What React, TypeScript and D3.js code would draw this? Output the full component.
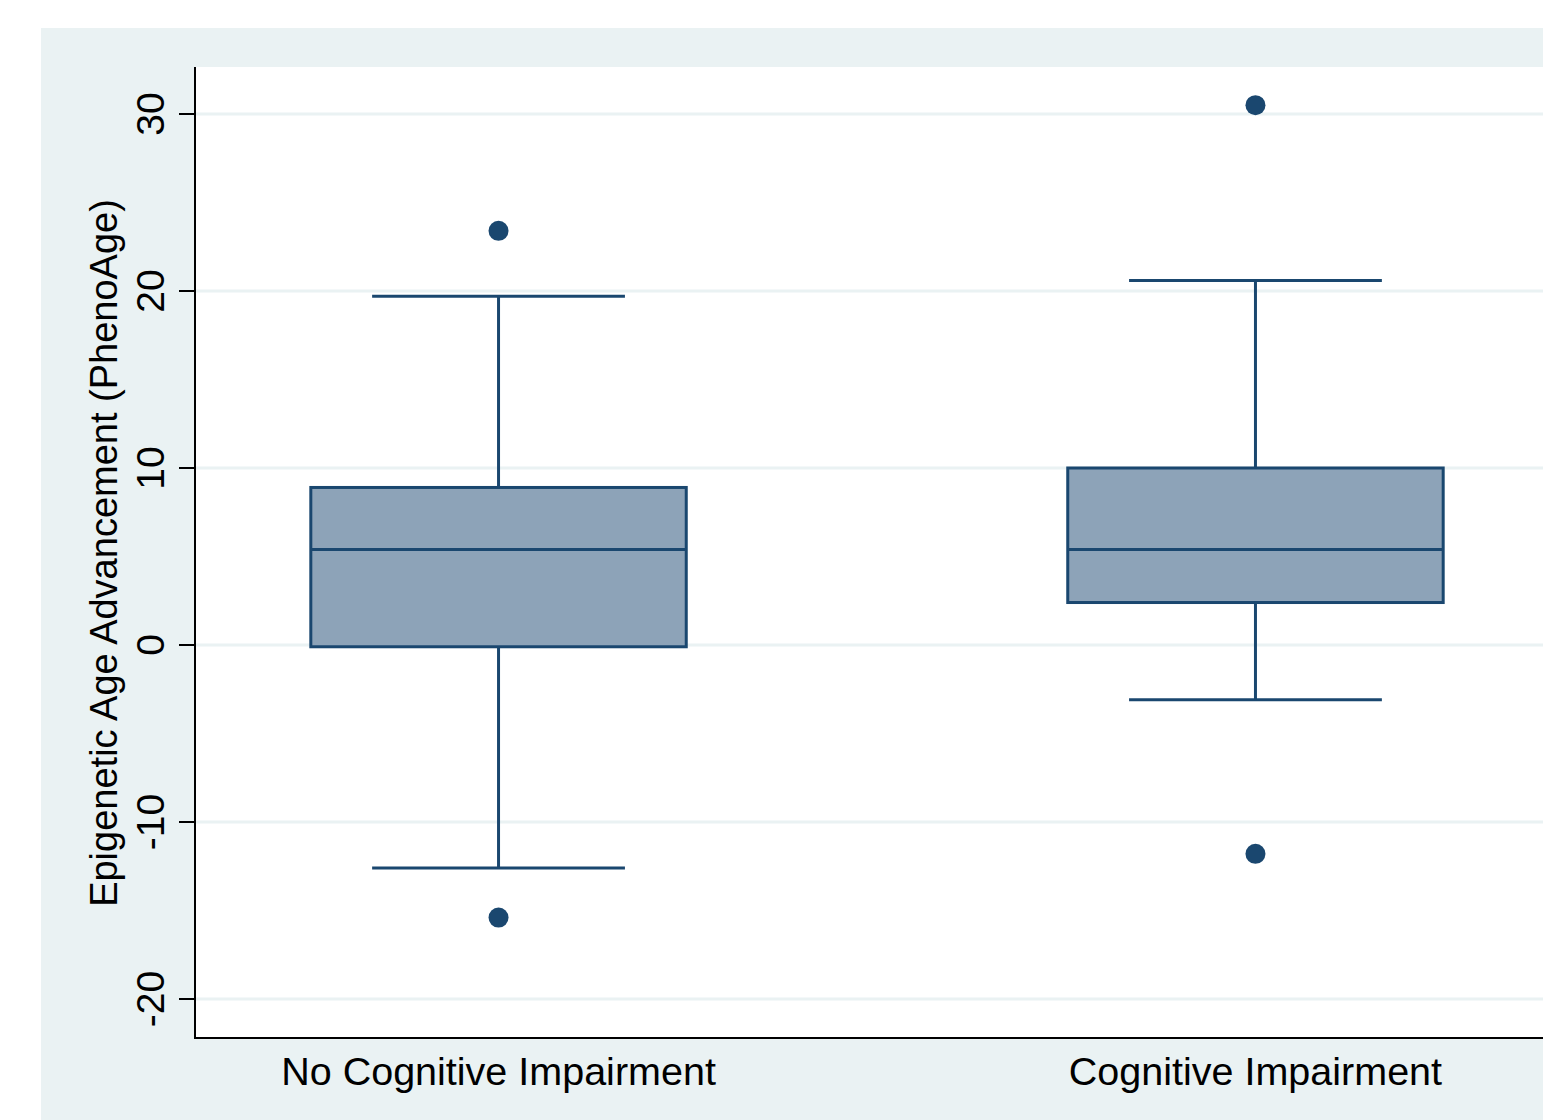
import React from "react";
import * as d3 from "d3";

const categories = ["No Cognitive Impairment", "Cognitive Impairment"];
const q1 = [-0.1, 2.4];
const medians = [5.4, 5.4];
const q3 = [8.9, 10.0];
const whiskerLow = [-12.6, -3.1];
const whiskerHigh = [19.7, 20.6];
const outliers = [[23.4, -15.4], [30.5, -11.8]];
const yTicks = [-20, -10, 0, 10, 20, 30];
const yTitle = "Epigenetic Age Advancement (PhenoAge)";

const W = 1543;
const H = 1120;
const plotLeft = 195;
const plotRight = 1559;
const plotTop = 67;
const plotBottom = 1038;

const navy = "#1A476F";
const boxFill = "#8DA3B8";
const panel = "#EAF2F3";
const font = "'Liberation Sans', Arial, Helvetica, sans-serif";

export default function App() {
  const y = d3.scaleLinear().domain([-20, 30]).range([999, 114]);
  const x = d3.scalePoint<string>().domain(categories).range([plotLeft, plotRight]).padding(0.401);
  const step = x.step();
  const boxW = step * 0.496;
  const capW = step * 0.334;

  return (
    <svg
      width={W}
      height={H}
      style={{ position: "absolute", left: 0, top: 0, background: "#fff" }}
    >
      <rect x={41} y={28} width={W - 41} height={H - 28} fill={panel} />
      <rect x={plotLeft} y={plotTop} width={W - plotLeft} height={plotBottom - plotTop} fill="#fff" />
      {yTicks.map((t) => (
        <line key={"g" + t} x1={plotLeft} x2={W} y1={y(t)} y2={y(t)} stroke={panel} strokeWidth={3} />
      ))}
      {categories.map((c, i) => {
        const cx = x(c) as number;
        return (
          <g key={c}>
            <line x1={cx} x2={cx} y1={y(q3[i])} y2={y(whiskerHigh[i])} stroke={navy} strokeWidth={3} />
            <line x1={cx} x2={cx} y1={y(q1[i])} y2={y(whiskerLow[i])} stroke={navy} strokeWidth={3} />
            <line x1={cx - capW / 2} x2={cx + capW / 2} y1={y(whiskerHigh[i])} y2={y(whiskerHigh[i])} stroke={navy} strokeWidth={3} />
            <line x1={cx - capW / 2} x2={cx + capW / 2} y1={y(whiskerLow[i])} y2={y(whiskerLow[i])} stroke={navy} strokeWidth={3} />
            <rect
              x={cx - boxW / 2}
              y={y(q3[i])}
              width={boxW}
              height={y(q1[i]) - y(q3[i])}
              fill={boxFill}
              stroke={navy}
              strokeWidth={3}
            />
            <line x1={cx - boxW / 2} x2={cx + boxW / 2} y1={y(medians[i])} y2={y(medians[i])} stroke={navy} strokeWidth={3} />
            {outliers[i].map((o, j) => (
              <circle key={j} cx={cx} cy={y(o)} r={10} fill={navy} />
            ))}
            <text
              x={cx}
              y={1085}
              textAnchor="middle"
              fontFamily={font}
              fontSize={39.5}
              fill="#000"
            >
              {c}
            </text>
          </g>
        );
      })}
      <line x1={plotLeft} x2={plotLeft} y1={plotTop} y2={plotBottom + 1} stroke="#000" strokeWidth={2} />
      <line x1={plotLeft - 1} x2={W} y1={plotBottom} y2={plotBottom} stroke="#000" strokeWidth={2} />
      {yTicks.map((t) => (
        <g key={"t" + t}>
          <line x1={179} x2={plotLeft} y1={y(t)} y2={y(t)} stroke="#000" strokeWidth={2} />
          <text
            transform={`translate(164,${y(t)}) rotate(-90)`}
            textAnchor="middle"
            fontFamily={font}
            fontSize={39}
            fill="#000"
          >
            {t}
          </text>
        </g>
      ))}
      <text
        transform={`translate(117,553) rotate(-90)`}
        textAnchor="middle"
        fontFamily={font}
        fontSize={38}
        fill="#000"
      >
        {yTitle}
      </text>
    </svg>
  );
}
